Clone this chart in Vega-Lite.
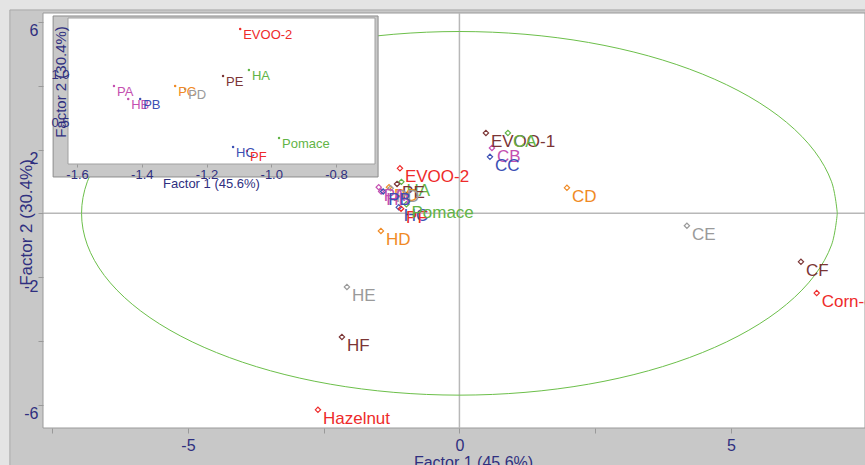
{
  "$schema": "https://vega.github.io/schema/vega-lite/v6.json",
  "width": 822,
  "height": 415,
  "autosize": "none",
  "padding": {"left": 43, "top": 13, "right": 0, "bottom": 37},
  "background": "#e4e4e4",
  "config": {
    "view": {"stroke": null},
    "font": "Liberation Sans",
    "axis": {"titleFontWeight": "normal", "labelColor": "#2f2f7f", "titleColor": "#2f2f7f", "grid": false, "domain": false, "tickColor": "#999999", "labelFlush": false, "labelOverlap": false, "labelBound": false}
  },
  "datasets": {
    "pts": [
      {"name": "EVOO-2", "x": -1.096, "y": 1.41},
      {"name": "HA", "x": -1.069, "y": 0.986},
      {"name": "PE", "x": -1.149, "y": 0.923},
      {"name": "PC", "x": -1.297, "y": 0.82},
      {"name": "PD", "x": -1.266, "y": 0.789},
      {"name": "PA", "x": -1.486, "y": 0.82},
      {"name": "HB", "x": -1.442, "y": 0.685},
      {"name": "PB", "x": -1.405, "y": 0.685},
      {"name": "HC", "x": -1.118, "y": 0.188},
      {"name": "PF", "x": -1.075, "y": 0.147},
      {"name": "Pomace", "x": -0.976, "y": 0.282},
      {"name": "HD", "x": -1.446, "y": -0.552},
      {"name": "HE", "x": -2.072, "y": -2.307},
      {"name": "HF", "x": -2.164, "y": -3.875},
      {"name": "Hazelnut", "x": -2.606, "y": -6.16},
      {"name": "EVOO-1", "x": 0.488, "y": 2.52},
      {"name": "CA", "x": 0.893, "y": 2.52},
      {"name": "CB", "x": 0.599, "y": 2.05},
      {"name": "CC", "x": 0.562, "y": 1.77},
      {"name": "CD", "x": 1.98, "y": 0.8},
      {"name": "CE", "x": 4.19, "y": -0.39},
      {"name": "CF", "x": 6.29, "y": -1.52},
      {"name": "Corn-oil", "x": 6.58, "y": -2.5}
    ],
    "panel": [{"x": -8.28, "x2": 9, "y": 6.376, "y2": -9}],
    "plotarea": [{"x": -7.67, "x2": 7.47, "y": 6.28, "y2": -6.73}],
    "zerolines": [
      {"x": 0, "x2": 0, "y": -6.73, "y2": 6.28},
      {"x": -7.67, "x2": 7.47, "y": 0, "y2": 0}
    ],
    "ellipse": [
      {"o": 0, "x": 6.96, "y": 0},
      {"o": 1, "x": 6.854, "y": 0.99},
      {"o": 2, "x": 6.54, "y": 1.949},
      {"o": 3, "x": 6.027, "y": 2.85},
      {"o": 4, "x": 5.331, "y": 3.664},
      {"o": 5, "x": 4.474, "y": 4.366},
      {"o": 6, "x": 3.48, "y": 4.936},
      {"o": 7, "x": 2.38, "y": 5.356},
      {"o": 8, "x": 1.208, "y": 5.613},
      {"o": 9, "x": 0, "y": 5.7},
      {"o": 10, "x": -1.208, "y": 5.613},
      {"o": 11, "x": -2.38, "y": 5.356},
      {"o": 12, "x": -3.48, "y": 4.936},
      {"o": 13, "x": -4.474, "y": 4.366},
      {"o": 14, "x": -5.331, "y": 3.664},
      {"o": 15, "x": -6.027, "y": 2.85},
      {"o": 16, "x": -6.54, "y": 1.949},
      {"o": 17, "x": -6.854, "y": 0.99},
      {"o": 18, "x": -6.96, "y": 0},
      {"o": 19, "x": -6.854, "y": -0.99},
      {"o": 20, "x": -6.54, "y": -1.949},
      {"o": 21, "x": -6.027, "y": -2.85},
      {"o": 22, "x": -5.331, "y": -3.664},
      {"o": 23, "x": -4.474, "y": -4.366},
      {"o": 24, "x": -3.48, "y": -4.936},
      {"o": 25, "x": -2.38, "y": -5.356},
      {"o": 26, "x": -1.208, "y": -5.613},
      {"o": 27, "x": 0, "y": -5.7},
      {"o": 28, "x": 1.208, "y": -5.613},
      {"o": 29, "x": 2.38, "y": -5.356},
      {"o": 30, "x": 3.48, "y": -4.936},
      {"o": 31, "x": 4.474, "y": -4.366},
      {"o": 32, "x": 5.331, "y": -3.664},
      {"o": 33, "x": 6.027, "y": -2.85},
      {"o": 34, "x": 6.54, "y": -1.949},
      {"o": 35, "x": 6.854, "y": -0.99},
      {"o": 36, "x": 6.96, "y": 0}
    ],
    "insetframe": [{"x": -1.674, "x2": -0.67, "y": 1.545, "y2": -0.122}],
    "insetplot": [{"x": -1.628, "x2": -0.6795, "y": 1.524, "y2": 0.0124}]
  },
  "layer": [
    {
      "encoding": {
        "x": {"field": "x", "type": "quantitative",
          "scale": {"domain": [-7.67, 7.47], "nice": false, "zero": false},
          "axis": {"orient": "bottom", "zindex": 1, "values": [-7.5, -5, -2.5, 0, 2.5, 5],
            "labelExpr": "datum.value % 5 == 0 ? (datum.value < 0 ? '-' : '') + abs(datum.value) : ''",
            "tickSize": 5, "labelPadding": 4, "labelFontSize": 16,
            "title": "Factor 1 (45.6%)", "titleFontSize": 16, "titleX": 430, "titleY": 26, "titleAlign": "center", "titleBaseline": "top"}},
        "y": {"field": "y", "type": "quantitative",
          "scale": {"domain": [-6.73, 6.28], "nice": false, "zero": false},
          "axis": {"orient": "left", "zindex": 1, "values": [-6, -4, -2, 0, 2, 4, 6],
            "labelExpr": "datum.value % 4 != 0 ? (datum.value < 0 ? '-' : '') + abs(datum.value) : ''",
            "tickSize": 5, "labelPadding": 0, "labelFontSize": 16, "labelBaseline": "top", "labelOffset": 1,
            "title": "Factor 2 (30.4%)", "titleFontSize": 17, "titleX": -17, "titleY": 209, "titleAngle": -90, "titleAlign": "center", "titleBaseline": "middle"}}
      },
      "layer": [
        {"data": {"name": "panel"}, "mark": {"type": "rect", "fill": "#c8c8c8", "stroke": "#a8a8a8", "strokeWidth": 1},
          "encoding": {"x2": {"field": "x2"}, "y2": {"field": "y2"}}},
        {"data": {"name": "plotarea"}, "mark": {"type": "rect", "fill": "#ffffff", "stroke": "#9a9a9a", "strokeWidth": 1},
          "encoding": {"x2": {"field": "x2"}, "y2": {"field": "y2"}}},
        {"data": {"name": "zerolines"}, "mark": {"type": "rule", "color": "#b8b8b8", "strokeWidth": 1.5},
          "encoding": {"x2": {"field": "x2"}, "y2": {"field": "y2"}}},
        {"data": {"name": "ellipse"}, "mark": {"type": "line", "color": "#6cbf4a", "strokeWidth": 1, "interpolate": "cardinal"},
          "encoding": {"order": {"field": "o", "type": "quantitative"}}},
        {"data": {"name": "pts"}, "mark": {"type": "point", "shape": "diamond", "filled": false, "size": 28, "strokeWidth": 1.2, "opacity": 1},
          "encoding": {"color": {"field": "name", "type": "nominal", "legend": null,
            "scale": {"domain": ["EVOO-2", "HA", "PE", "PC", "PD", "PA", "HB", "PB", "HC", "PF", "Pomace", "HD", "HE", "HF", "Hazelnut", "EVOO-1", "CA", "CB", "CC", "CD", "CE", "CF", "Corn-oil"],
              "range": ["#ee2b2b", "#62b446", "#7b3535", "#f08a24", "#9a9a9a", "#c44fb0", "#c44fb0", "#3c50b4", "#3c50b4", "#ee2b2b", "#62b446", "#f08a24", "#9a9a9a", "#7b3535", "#ee2b2b", "#7b3535", "#62b446", "#c44fb0", "#3c50b4", "#f08a24", "#9a9a9a", "#7b3535", "#ee2b2b"]}}}},
        {"data": {"name": "pts"}, "mark": {"type": "text", "align": "left", "baseline": "top", "dx": 5, "dy": 1, "fontSize": 17},
          "encoding": {"text": {"field": "name"}, "color": {"field": "name", "type": "nominal", "legend": null,
            "scale": {"domain": ["EVOO-2", "HA", "PE", "PC", "PD", "PA", "HB", "PB", "HC", "PF", "Pomace", "HD", "HE", "HF", "Hazelnut", "EVOO-1", "CA", "CB", "CC", "CD", "CE", "CF", "Corn-oil"],
              "range": ["#ee2b2b", "#62b446", "#7b3535", "#f08a24", "#9a9a9a", "#c44fb0", "#c44fb0", "#3c50b4", "#3c50b4", "#ee2b2b", "#62b446", "#f08a24", "#9a9a9a", "#7b3535", "#ee2b2b", "#7b3535", "#62b446", "#c44fb0", "#3c50b4", "#f08a24", "#9a9a9a", "#7b3535", "#ee2b2b"]}}}}
      ]
    },
    {
      "encoding": {
        "x": {"field": "x", "type": "quantitative",
          "scale": {"domain": [-1.628, -0.6795], "range": [25, 332], "nice": false, "zero": false},
          "axis": {"orient": "bottom", "zindex": 1, "offset": -264, "values": [-1.6, -1.4, -1.2, -1.0, -0.8],
            "labelExpr": "(datum.value < 0 ? '-' : '') + format(abs(datum.value), '.1f')",
            "tickSize": 3, "labelPadding": 1, "labelFontSize": 13,
            "title": "Factor 1 (45.6%)", "titleFontSize": 13, "titleX": 168, "titleY": 13.6, "titleAlign": "center", "titleBaseline": "top"}},
        "y": {"field": "y", "type": "quantitative",
          "scale": {"domain": [0.0124, 1.524], "range": [151, 5], "nice": false, "zero": false},
          "axis": {"orient": "left", "zindex": 1, "offset": -25, "values": [0.5, 1.0],
            "labelExpr": "format(datum.value, '.1f')",
            "ticks": false, "labelPadding": -1, "labelFontSize": 13, "labelBaseline": "top",
            "title": "Factor 2 (30.4%)", "titleFontSize": 15, "titleX": -8, "titleY": 68.5, "titleAngle": -90, "titleAlign": "center", "titleBaseline": "middle"}}
      },
      "layer": [
        {"data": {"name": "insetframe"}, "mark": {"type": "rect", "fill": "#c8c8c8", "stroke": "#8c8c8c", "strokeWidth": 1},
          "encoding": {"x2": {"field": "x2"}, "y2": {"field": "y2"}}},
        {"data": {"name": "insetplot"}, "mark": {"type": "rect", "fill": "#ffffff", "stroke": "#a0a0a0", "strokeWidth": 1},
          "encoding": {"x2": {"field": "x2"}, "y2": {"field": "y2"}}},
        {"data": {"name": "pts"},
          "transform": [{"filter": "datum.x >= -1.628 && datum.x <= -0.68 && datum.y >= 0.012 && datum.y <= 1.524"}],
          "mark": {"type": "circle", "size": 6, "opacity": 1},
          "encoding": {"color": {"field": "name", "type": "nominal", "legend": null,
            "scale": {"domain": ["EVOO-2", "HA", "PE", "PC", "PD", "PA", "HB", "PB", "HC", "PF", "Pomace", "HD", "HE", "HF", "Hazelnut", "EVOO-1", "CA", "CB", "CC", "CD", "CE", "CF", "Corn-oil"],
              "range": ["#ee2b2b", "#62b446", "#7b3535", "#f08a24", "#9a9a9a", "#c44fb0", "#c44fb0", "#3c50b4", "#3c50b4", "#ee2b2b", "#62b446", "#f08a24", "#9a9a9a", "#7b3535", "#ee2b2b", "#7b3535", "#62b446", "#c44fb0", "#3c50b4", "#f08a24", "#9a9a9a", "#7b3535", "#ee2b2b"]}}}},
        {"data": {"name": "pts"},
          "transform": [{"filter": "datum.x >= -1.628 && datum.x <= -0.68 && datum.y >= 0.012 && datum.y <= 1.524"}],
          "mark": {"type": "text", "align": "left", "baseline": "top", "dx": 3, "dy": 0, "fontSize": 13},
          "encoding": {"text": {"field": "name"}, "color": {"field": "name", "type": "nominal", "legend": null,
            "scale": {"domain": ["EVOO-2", "HA", "PE", "PC", "PD", "PA", "HB", "PB", "HC", "PF", "Pomace", "HD", "HE", "HF", "Hazelnut", "EVOO-1", "CA", "CB", "CC", "CD", "CE", "CF", "Corn-oil"],
              "range": ["#ee2b2b", "#62b446", "#7b3535", "#f08a24", "#9a9a9a", "#c44fb0", "#c44fb0", "#3c50b4", "#3c50b4", "#ee2b2b", "#62b446", "#f08a24", "#9a9a9a", "#7b3535", "#ee2b2b", "#7b3535", "#62b446", "#c44fb0", "#3c50b4", "#f08a24", "#9a9a9a", "#7b3535", "#ee2b2b"]}}}}
      ]
    }
  ],
  "resolve": {"scale": {"x": "independent", "y": "independent"}, "axis": {"x": "independent", "y": "independent"}}
}
